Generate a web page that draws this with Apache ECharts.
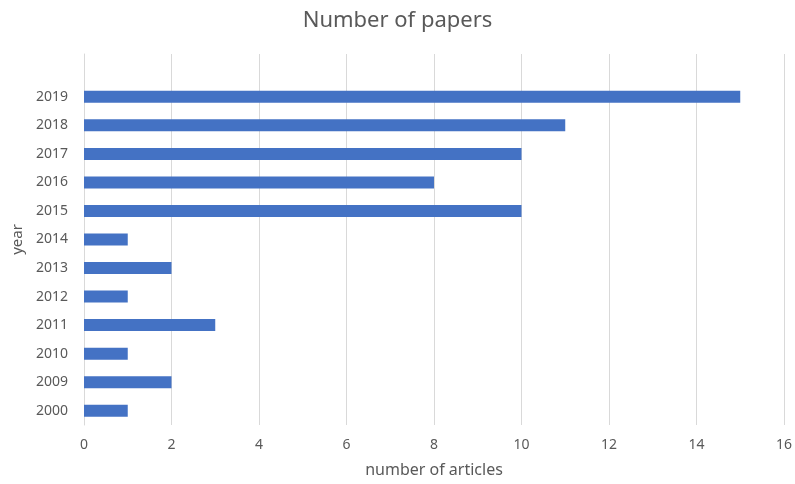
<!DOCTYPE html>
<html><head><meta charset="utf-8">
<script src="https://cdn.jsdelivr.net/npm/echarts@6/dist/echarts.min.js"></script>
<style>html,body{margin:0;padding:0;background:#fff}#c{width:795px;height:484px}</style>
</head><body><div id="c"></div>
<script>
const categories = ['2000','2009','2010','2011','2012','2013','2014','2015','2016','2017','2018','2019',''];
const values = [1,2,1,3,1,2,1,10,8,10,11,15,null];
const xTicks = {min:0,max:16,interval:2};
const chart = echarts.init(document.getElementById('c'));
const txt = '#595959', font = 'Noto Sans';
chart.setOption({
  animation:false,
  title:{text:'Number of papers',left:'center',top:5,textStyle:{fontFamily:font,fontSize:22,fontWeight:'normal',color:txt}},
  grid:{left:84,right:8,top:54,bottom:59,containLabel:false},
  xAxis:{type:'value',min:xTicks.min,max:xTicks.max,interval:xTicks.interval,
    name:'number of articles',nameLocation:'middle',nameGap:37,
    nameTextStyle:{fontFamily:font,fontSize:16,color:txt},
    axisLine:{show:false},axisTick:{show:false},
    axisLabel:{fontFamily:font,fontSize:14,color:txt,margin:13},
    splitLine:{lineStyle:{color:'#d9d9d9',width:1}}},
  yAxis:{type:'category',data:categories,
    name:'year',nameLocation:'middle',nameGap:58,nameRotate:90,
    nameTextStyle:{fontFamily:font,fontSize:15,color:txt},
    axisLine:{show:true,lineStyle:{color:'#d9d9d9'}},axisTick:{show:false},
    axisLabel:{fontFamily:font,fontSize:14,color:txt,margin:16}},
  series:[{type:'bar',data:values,barWidth:12,itemStyle:{color:'#4472C4'}}]
});
</script></body></html>
